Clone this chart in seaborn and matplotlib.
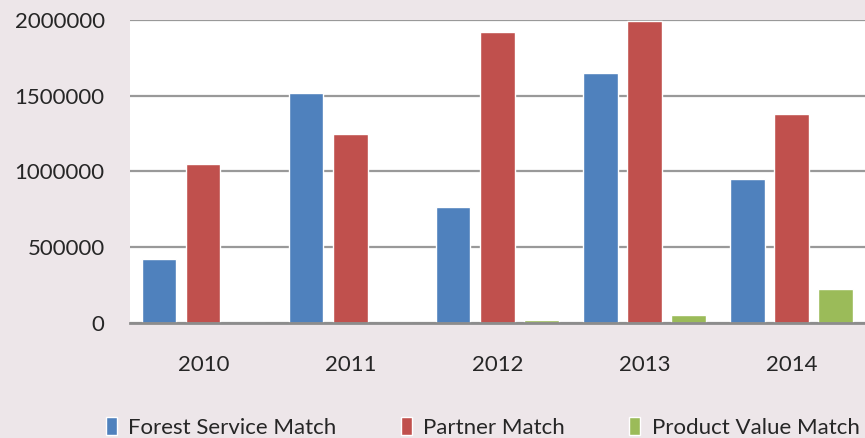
import numpy as np
import pandas as pd
import matplotlib.pyplot as plt
import seaborn as sns

years = ["2010", "2011", "2012", "2013", "2014"]
forest_service = [422000, 1520000, 765000, 1650000, 950000]
partner = [1050000, 1250000, 1920000, 1993000, 1380000]
product_value = [0, 0, 20000, 53000, 224000]

series_names = ["Forest Service Match", "Partner Match", "Product Value Match"]
colors = ["#4F81BD", "#C0504D", "#9BBB59"]

df = pd.DataFrame({
    "Year": years * 3,
    "Value": forest_service + partner + product_value,
    "Series": [s for s in series_names for _ in years],
})

sns.set_style("white")
plt.rcParams["font.family"] = ["Lato", "DejaVu Sans"]

bg = "#EDE6E9"
fig = plt.figure(figsize=(8.65, 4.38), dpi=100, facecolor=bg)
ax = fig.add_axes([0.150, 0.263, 0.850, 0.691])
ax.set_facecolor("white")

sns.barplot(data=df, x="Year", y="Value", hue="Series", palette=colors,
            width=0.9, gap=0.22, ax=ax, legend=True, saturation=1)

ax.set_ylim(0, 2000000)
ax.set_yticks([0, 500000, 1000000, 1500000, 2000000])
ax.set_yticklabels(["0", "500000", "1000000", "1500000", "2000000"], fontsize=16)
ax.tick_params(axis="x", labelsize=16, pad=23, length=0)
ax.tick_params(axis="y", pad=18, length=0)
ax.set_xlabel("")
ax.set_ylabel("")
ax.yaxis.grid(True, color="#999999", linewidth=1.6)
ax.set_axisbelow(True)
for s in ["top", "right", "left"]:
    ax.spines[s].set_visible(False)
ax.spines["bottom"].set_color("#8C8C8C")
ax.spines["bottom"].set_linewidth(2)

handles, labels = ax.get_legend_handles_labels()
ax.legend_.remove()
fig.legend(handles, labels, loc="lower center", bbox_to_anchor=(0.558, -0.045),
           ncol=3, frameon=False, fontsize=16, handlelength=0.5, handleheight=0.9,
           handletextpad=0.5, columnspacing=2.9)

fig.savefig("out.png", dpi=100, facecolor=bg)
